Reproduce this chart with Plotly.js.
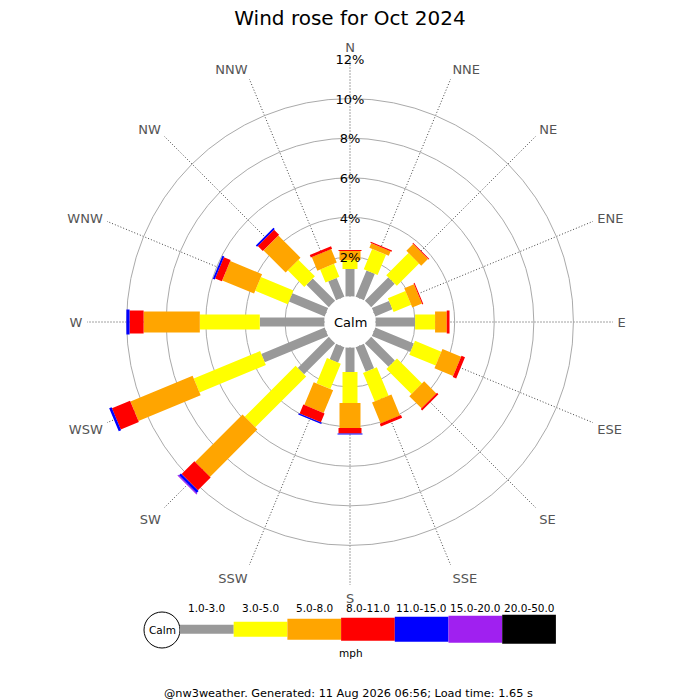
<!DOCTYPE html>
<html><head><meta charset="utf-8">
<script src="https://cdn.plot.ly/plotly-3.0.1.min.js"></script>
<style>body{margin:0;background:#fff}</style>
</head><body><div id="chart" style="width:700px;height:700px"></div>
<script>
// ---------- data ----------
const directions = ['N','NNE','NE','ENE','E','ESE','SE','SSE','S','SSW','SW','WSW','W','WNW','NW','NNW'];
const bandLabels = ['1.0-3.0','3.0-5.0','5.0-8.0','8.0-11.0','11.0-15.0','15.0-20.0','20.0-50.0'];
// frequency (%) of each speed band per direction
const speed1to3   = [1.39,1.44,1.68,0.94,2.00,2.11,1.69,1.34,1.24,0.84,2.22,3.47,3.27,1.96,1.60,1.03];
const speed3to5   = [0.46,1.11,1.59,0.96,1.01,1.44,1.79,1.56,1.56,1.38,3.64,3.63,3.03,1.78,1.18,0.71];
const speed5to8   = [0.45,0.25,0.48,0.53,0.59,1.02,0.87,1.14,1.27,1.25,3.39,3.40,2.84,1.74,1.58,0.74];
const speed8to11  = [0.05,0.06,0.05,0.05,0.14,0.19,0.10,0.15,0.28,0.49,0.91,0.99,0.71,0.37,0.36,0.14];
const speed11to15 = [0,0,0,0,0,0,0,0,0.05,0.07,0.14,0.13,0.16,0.10,0.09,0];
const speed15to20 = [0,0,0,0,0,0,0,0,0,0,0.06,0,0,0,0,0];
const speed20to50 = [0,0,0,0,0,0,0,0,0,0,0,0,0,0,0,0];
const radialTicks = [2,4,6,8,10,12];
const titleText = 'Wind rose for Oct 2024';
const unitText = 'mph';
const calmText = 'Calm';
const footerText = '@nw3weather. Generated: 11 Aug 2026 06:56; Load time: 1.65 s';

// ---------- styles ----------
const bandColors = ['#999999','#ffff00','#ffa500','#ff0000','#0000ff','#a020f0','#000000'];
const bandWidthsPx = [9,15,21,23,25,27,29];
const FONT = 'DejaVu Sans, Verdana, sans-serif';
const margin = {l:87, r:87, t:59, b:115, pad:0};
const plotRpx = 263, holePx = 25.5, rMax = 12;
const pxPerUnit = (plotRpx - holePx) / rMax;
const holeUnits = holePx / pxPerUnit;
const radialLabelDropPx = 2;
const plotW = 700 - margin.l - margin.r, plotH = 700 - margin.t - margin.b;
const px2x = x => (x - margin.l) / plotW;
const px2y = y => (700 - margin.b - y) / plotH;

const bands = [speed1to3, speed3to5, speed5to8, speed8to11, speed11to15, speed15to20, speed20to50];

// ---------- traces: rectangular stacked bars on the polar axes ----------
const traces = [];
bands.forEach((vals, b) => {
  const r = [], th = [];
  const halfW = bandWidthsPx[b] / 2 / pxPerUnit;
  vals.forEach((v, i) => {
    if (!(v > 0)) return;
    let base = 0;
    for (let k = 0; k < b; k++) base += bands[k][i];
    const top = base + v;
    const ang = i * 360 / directions.length;
    [[base,-halfW],[top,-halfW],[top,halfW],[base,halfW],[base,-halfW]].forEach(([rr, off]) => {
      const D = rr + holeUnits;
      r.push(Math.hypot(D, off) - holeUnits);
      th.push(ang + Math.atan2(off, D) * 180 / Math.PI);
    });
    r.push(null); th.push(null);
  });
  traces.push({
    type:'scatterpolar', mode:'lines', r:r, theta:th, fill:'toself',
    fillcolor: bandColors[b], line:{width:0, color:bandColors[b]},
    name: bandLabels[b], hoverinfo:'skip', showlegend:false
  });
});
traces.push({
  type:'scatterpolar', mode:'text',
  r: radialTicks.map(v => v - radialLabelDropPx / pxPerUnit), theta: radialTicks.map(() => 0),
  text: radialTicks.map(v => v + '%'), textposition:'middle center',
  textfont:{family:FONT, size:13, color:'#000'}, hoverinfo:'skip', showlegend:false
});

// ---------- custom legend ----------
const shapes = [], annotations = [];
const legX0 = 180, legSeg = 53.7, legCy = 629.3;
annotations.push({xref:'paper', yref:'paper', x:0.5, y:0.5, text:calmText, showarrow:false,
  font:{family:FONT, size:13, color:'#000'}, xanchor:'center', yanchor:'middle'});
shapes.push({type:'circle', xref:'paper', yref:'paper', x0:px2x(162-18), x1:px2x(162+18),
  y0:px2y(630+18), y1:px2y(630-18), line:{color:'#000', width:1}, fillcolor:'#fff'});
annotations.push({xref:'paper', yref:'paper', x:px2x(162), y:px2y(630), text:calmText, showarrow:false,
  font:{family:FONT, size:10.5, color:'#000'}, xanchor:'center', yanchor:'middle'});
bandLabels.forEach((lab, b) => {
  const x0 = legX0 + b * legSeg, x1 = x0 + legSeg, h = bandWidthsPx[b];
  shapes.push({type:'rect', xref:'paper', yref:'paper', x0:px2x(x0), x1:px2x(x1),
    y0:px2y(legCy + h/2), y1:px2y(legCy - h/2), line:{width:0}, fillcolor:bandColors[b]});
  annotations.push({xref:'paper', yref:'paper', x:px2x((x0+x1)/2), y:px2y(607.5), text:lab, showarrow:false,
    font:{family:FONT, size:10.5, color:'#000'}, xanchor:'center', yanchor:'middle'});
});
annotations.push({xref:'paper', yref:'paper', x:px2x(351), y:px2y(653), text:unitText, showarrow:false,
  font:{family:FONT, size:10.5, color:'#000'}, xanchor:'center', yanchor:'middle'});
annotations.push({xref:'paper', yref:'paper', x:px2x(348), y:px2y(693), text:footerText, showarrow:false,
  font:{family:FONT, size:11.3, color:'#000'}, xanchor:'center', yanchor:'middle'});

const layout = {
  width:700, height:700, margin:margin, paper_bgcolor:'#fff', showlegend:false,
  title:{text:titleText, x:0.5, xanchor:'center', y:1-18/700, yanchor:'middle', yref:'container',
    font:{family:FONT, size:20, color:'#000'}},
  polar:{
    domain:{x:[0,1], y:[0,1]}, bgcolor:'#fff', hole: holePx / plotRpx,
    radialaxis:{range:[0,rMax], tickvals:radialTicks, showticklabels:false, ticks:'',
      showline:false, gridcolor:'#aaaaaa', gridwidth:1},
    angularaxis:{rotation:90, direction:'clockwise', tickmode:'array',
      tickvals: directions.map((d,i) => i*360/directions.length), ticktext: directions,
      tickfont:{family:FONT, size:13, color:'#555'}, ticks:'outside', ticklen:1.5,
      tickcolor:'rgba(0,0,0,0)', showline:false,
      gridcolor:'#444', griddash:'1px,2px', gridwidth:1}
  },
  shapes:shapes, annotations:annotations
};
Plotly.newPlot('chart', traces, layout, {staticPlot:true, displayModeBar:false});
</script></body></html>
